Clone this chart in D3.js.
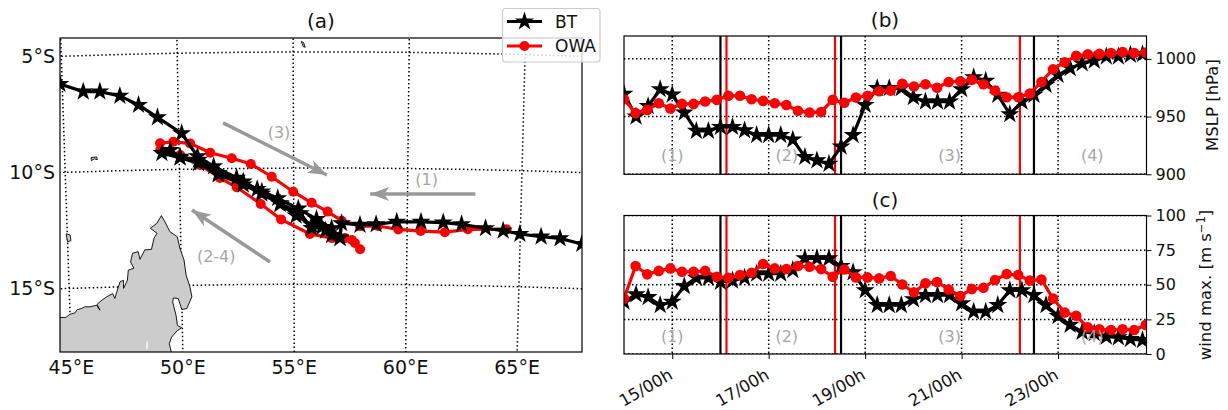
<!DOCTYPE html>
<html>
<head>
<meta charset="utf-8">
<script src="https://cdn.jsdelivr.net/npm/d3@7"></script>
<style>
  body { margin: 0; background: #fff; }
  text { font-family: "DejaVu Sans", sans-serif; fill: #111; }
</style>
</head>
<body>
<div id="chart"></div>
<script>
// track positions, [lon, lat]
const btTrack = [[69.2,-13.3],[67.73,-13.08],[66.76,-12.87],[65.92,-12.82],[64.98,-12.73],[64.24,-12.61],[63.46,-12.52],[62.4,-12.37],[61.59,-12.31],[60.61,-12.29],[59.54,-12.3],[58.63,-12.42],[57.92,-12.45],[57.11,-12.38],[57.04,-13.02],[56.67,-12.89],[56.23,-12.55],[55.79,-12.59],[55.28,-11.95],[54.4,-11.52],[53.6,-11.01],[52.79,-10.57],[51.7,-10.2],[50.84,-9.61],[50.04,-9.46],[49.62,-9.16],[49.25,-9.29],[50.04,-9.5],[50.84,-9.75],[51.7,-10.25],[52.79,-10.7],[53.6,-11.1],[54.4,-11.55],[55.1,-12.05],[55.79,-12.45],[56.4,-12.7],[57.04,-13.0],[56.67,-12.6],[56.0,-12.2],[55.2,-11.75],[54.3,-11.3],[53.4,-10.9],[52.5,-10.4],[51.5,-9.9],[50.8,-9.45],[50.13,-8.45],[49.09,-7.74],[48.28,-7.19],[47.48,-6.78],[46.62,-6.57],[45.9,-6.55],[44.9,-6.19],[44.0,-6.0]]
const owaTrack = [[64.39,-12.54],[62.68,-12.58],[61.67,-12.72],[60.6,-12.69],[59.61,-12.63],[58.71,-12.49],[57.92,-12.5],[57.11,-12.27],[56.49,-11.88],[55.79,-11.5],[54.98,-11.02],[54.04,-10.37],[53.13,-9.81],[52.3,-9.56],[51.36,-9.31],[50.49,-8.89],[49.76,-8.81],[49.18,-8.86],[49.18,-9.15],[50.05,-9.38],[50.9,-9.83],[51.77,-10.4],[52.5,-10.81],[53.55,-11.54],[54.44,-12.21],[55.71,-12.84],[56.69,-13.02],[57.26,-13.02],[57.57,-13.1],[57.7,-13.23],[57.93,-13.5]]

// land
const madagascar = [[44.0,-16.23],[44.54,-16.23],[44.81,-16.24],[44.99,-16.11],[45.22,-16.06],[45.33,-15.92],[45.52,-15.88],[45.67,-15.81],[45.9,-15.82],[46.2,-15.76],[46.34,-15.98],[46.22,-15.72],[46.44,-15.55],[46.66,-15.41],[46.93,-15.28],[47.02,-15.49],[47.14,-15.14],[47.27,-14.78],[47.42,-14.72],[47.42,-15.07],[47.6,-14.72],[47.65,-14.29],[47.9,-14.22],[47.76,-13.94],[47.86,-13.57],[48.11,-13.51],[48.18,-13.84],[48.4,-13.44],[48.7,-13.42],[48.82,-12.95],[48.96,-12.74],[48.67,-12.51],[48.96,-12.31],[49.17,-11.98],[49.32,-12.25],[49.53,-12.68],[49.85,-12.9],[49.96,-13.41],[50.13,-13.91],[50.21,-14.56],[50.37,-15.06],[50.45,-15.5],[50.21,-16.0],[49.99,-16.03],[49.84,-15.56],[49.63,-15.53],[49.59,-15.7],[49.73,-16.28],[49.78,-16.71],[49.97,-16.81],[49.75,-16.95],[49.51,-17.21],[49.4,-17.49],[49.5,-17.9],[49.5,-18.6],[44.0,-18.6]]
const islands = [
  [[44.95,-12.65],[45.12,-12.7],[45.15,-12.95],[45.0,-13.0]],
  [[46.15,-9.4],[46.4,-9.38],[46.42,-9.5],[46.3,-9.46],[46.16,-9.53]],
  [[55.35,-4.55],[55.45,-4.6],[55.52,-4.8],[55.44,-4.78]]
]
const lake = [[48.38,-17.36],[48.44,-17.38],[48.42,-17.7],[48.36,-17.68]]

// pressure and wind, BT every 6 h from 14/00h, OWA a bit denser
const btMslp = [969.7,950,959,973.7,969,953.5,937.6,937.6,941,941,938,934,934,934,930,915,912,909,924,934,960,974.6,974.6,974.6,966.8,963,963,963,973.7,984,981,968.8,952,963,968.8,977.5,986,992,996,998.5,1002,1002,1003.5,1004]
const owaMslp = [965,953,955.8,961.6,957,961,961,963,964.5,968,968,965,963.6,961.6,960,955,953.5,954,964.5,962,966.5,968,972,972.5,978.5,976,978,975,980,980.6,981.8,978,972.5,966.8,966.8,970,980,991,997,1002.6,1004,1004.3,1005,1006,1005,1005.5]
const btWind = [37.7,43,41,35.3,37.7,49,55,55,52,53,55,58,58,58,60.6,69,69,69,63.5,59,46,35.3,35.3,35.3,39.4,42.5,42.5,42.5,36.5,30.5,30.5,35.3,46,46,42.5,35.3,27.4,21,16,15,12.5,12,10.8,10]
const owaWind = [40,63.5,57.5,60,61.8,59.4,59.4,60,55.8,55,57,58.7,65,61.8,61.3,63.5,63,61.3,55.8,61,55.3,55.3,54.6,56.3,50.2,44.5,51,52,46.6,41.8,47,47.8,53.4,57.7,57,53,53.8,40,30,27.6,19.2,17.8,17.3,17.8,17.3,21]

// phase boundaries
const parseTime = d3.utcParse("%d %H")
const btPhases = ["16 00", "18 12", "22 12"].map(parseTime)
const owaPhases = ["16 03", "18 09", "22 05"].map(parseTime)
const phaseLabels = ["(1)", "(2)", "(3)", "(4)"]
const phaseTimes = ["15 00", "17 09", "20 18", "23 17"].map(parseTime)

const lonTicks = [45, 50, 55, 60, 65]
const latTicks = [-5, -10, -15]
const timeTicks = ["15 00", "17 00", "19 00", "21 00", "23 00"].map(parseTime)

// map arrows, [from, to]
const arrows = [
  [[62.98,-11.05],[58.36,-11.11]],
  [[51.94,-8.03],[56.46,-10.3]],
  [[53.94,-14.04],[50.52,-11.76]]
]
const arrowLabels = [
  { text: "(1)", pos: [60.83,-10.44] },
  { text: "(3)", pos: [54.37,-8.45] },
  { text: "(2-4)", pos: [51.56,-13.76] }
]

const RED = "#ff0000"
const GREY = "#a6a6a6"

const svg = d3.select("#chart").append("svg")
  .attr("width", 1228)
  .attr("height", 410)
  .style("display", "block")

svg.append("defs").append("marker")
  .attr("id", "head")
  .attr("markerUnits", "userSpaceOnUse")
  .attr("orient", "auto")
  .attr("viewBox", "-20 -8 21 16")
  .attr("refX", 0)
  .attr("refY", 0)
  .attr("markerWidth", 21)
  .attr("markerHeight", 16)
  .append("path")
  .attr("d", "M0,0L-19,-7L-14,0L-19,7Z")
  .attr("fill", "#999")

const starPath = r => d3.symbol().type(d3.symbolStar).size(r * r / 0.8908)()

function clipRect(id, m) {
  svg.select("defs").append("clipPath").attr("id", id)
    .append("rect")
    .attr("x", m.left).attr("y", m.top)
    .attr("width", m.right - m.left).attr("height", m.bottom - m.top)
}

function drawMap() {
  const m = { left: 60, right: 582, top: 38, bottom: 352 }
  clipRect("clip-map", m)

  const projection = d3.geoConicConformal()
    .parallels([-10, -10])
    .rotate([-56.2, 0])
    .center([0, -10])
    .scale(1329)
    .translate([321, 168])
  const path = d3.geoPath(projection)
  const line = d3.line().x(d => projection(d)[0]).y(d => projection(d)[1])

  const g = svg.append("g").attr("clip-path", "url(#clip-map)")

  const graticule = d3.geoGraticule().step([5, 5]).extent([[40, -25], [70.01, 0.01]])
  g.append("path")
    .datum(graticule())
    .attr("d", path)
    .attr("fill", "none")
    .attr("stroke", "#000")
    .attr("stroke-width", 1.5)
    .attr("stroke-dasharray", "1.5,2.5")

  g.selectAll(".land")
    .data([madagascar, ...islands])
    .join("path")
    .attr("class", "land")
    .attr("d", d => path({ type: "Polygon", coordinates: [[...d, d[0]]] }))
    .attr("fill", "#cccccc")
    .attr("stroke", "#000")
    .attr("stroke-width", 0.9)

  g.append("path")
    .attr("d", path({ type: "Polygon", coordinates: [[...lake, lake[0]]] }))
    .attr("fill", "#fff")

  g.selectAll(".arrow")
    .data(arrows)
    .join("path")
    .attr("class", "arrow")
    .attr("d", line)
    .attr("fill", "none")
    .attr("stroke", "#999")
    .attr("stroke-width", 3.5)
    .attr("marker-end", "url(#head)")

  g.selectAll(".arrow-label")
    .data(arrowLabels)
    .join("text")
    .attr("class", "arrow-label")
    .attr("x", d => projection(d.pos)[0])
    .attr("y", d => projection(d.pos)[1])
    .attr("dy", "0.35em")
    .attr("text-anchor", "middle")
    .attr("font-size", 16)
    .style("fill", GREY)
    .text(d => d.text)

  g.append("path")
    .attr("d", line(owaTrack))
    .attr("fill", "none")
    .attr("stroke", RED)
    .attr("stroke-width", 3.2)
  g.selectAll(".owa")
    .data(owaTrack)
    .join("circle")
    .attr("class", "owa")
    .attr("cx", d => projection(d)[0])
    .attr("cy", d => projection(d)[1])
    .attr("r", 5)
    .attr("fill", RED)

  g.append("path")
    .attr("d", line(btTrack))
    .attr("fill", "none")
    .attr("stroke", "#000")
    .attr("stroke-width", 3.2)
  g.selectAll(".bt")
    .data(btTrack)
    .join("path")
    .attr("class", "bt")
    .attr("transform", d => `translate(${projection(d)})`)
    .attr("d", starPath(10))
    .attr("fill", "#000")

  svg.append("rect")
    .attr("x", m.left).attr("y", m.top)
    .attr("width", m.right - m.left).attr("height", m.bottom - m.top)
    .attr("fill", "none")
    .attr("stroke", "#000")
    .attr("stroke-width", 1.2)

  svg.selectAll(".lon-label")
    .data(lonTicks)
    .join("text")
    .attr("class", "lon-label")
    .attr("x", d => projection([d, -17.9])[0])
    .attr("y", 374)
    .attr("text-anchor", "middle")
    .attr("font-size", 19)
    .text(d => `${d}°E`)

  svg.selectAll(".lat-label")
    .data(latTicks)
    .join("text")
    .attr("class", "lat-label")
    .attr("x", 55)
    .attr("y", d => projection([44.6, d])[1])
    .attr("dy", "0.35em")
    .attr("text-anchor", "end")
    .attr("font-size", 19)
    .text(d => `${-d}°S`)

  svg.append("text")
    .attr("x", 321).attr("y", 28)
    .attr("text-anchor", "middle")
    .attr("font-size", 20)
    .text("(a)")
}

const t0 = parseTime("14 00")
const t1 = parseTime("24 20")
const btTime = i => new Date(+t0 + i * 6 * 36e5)
const owaTime = i => new Date(+t0 + i * 5.77 * 36e5)

function drawPanel(cfg) {
  const m = { left: 624, right: 1146.5, top: cfg.top, bottom: cfg.bottom }
  clipRect(cfg.id, m)

  const xScale = d3.scaleUtc().domain([t0, t1]).range([m.left, m.right])
  const yScale = d3.scaleLinear().domain(cfg.domain).range([m.bottom, m.top])

  const g = svg.append("g").attr("clip-path", `url(#${cfg.id})`)

  g.selectAll(".vgrid")
    .data(timeTicks)
    .join("line")
    .attr("class", "vgrid")
    .attr("x1", d => xScale(d)).attr("x2", d => xScale(d))
    .attr("y1", m.top).attr("y2", m.bottom)
  g.selectAll(".hgrid")
    .data(cfg.ticks)
    .join("line")
    .attr("class", "hgrid")
    .attr("x1", m.left).attr("x2", m.right)
    .attr("y1", d => yScale(d)).attr("y2", d => yScale(d))
  g.selectAll("line")
    .attr("stroke", "#000")
    .attr("stroke-width", 1.5)
    .attr("stroke-dasharray", "1.5,2.5")

  g.selectAll(".phase-bt")
    .data(btPhases)
    .join("line")
    .attr("class", "phase-bt")
    .attr("x1", d => xScale(d)).attr("x2", d => xScale(d))
    .attr("y1", m.top).attr("y2", m.bottom)
    .attr("stroke", "#000")
    .attr("stroke-width", 2.2)
  g.selectAll(".phase-owa")
    .data(owaPhases)
    .join("line")
    .attr("class", "phase-owa")
    .attr("x1", d => xScale(d)).attr("x2", d => xScale(d))
    .attr("y1", m.top).attr("y2", m.bottom)
    .attr("stroke", RED)
    .attr("stroke-width", 2.2)

  g.append("path")
    .attr("d", d3.line().x((d, i) => xScale(btTime(i))).y(d => yScale(d))(cfg.bt))
    .attr("fill", "none")
    .attr("stroke", "#000")
    .attr("stroke-width", 3.2)
  g.selectAll(".bt")
    .data(cfg.bt)
    .join("path")
    .attr("class", "bt")
    .attr("transform", (d, i) => `translate(${xScale(btTime(i))},${yScale(d)})`)
    .attr("d", starPath(10))
    .attr("fill", "#000")

  g.append("path")
    .attr("d", d3.line().x((d, i) => xScale(owaTime(i))).y(d => yScale(d))(cfg.owa))
    .attr("fill", "none")
    .attr("stroke", RED)
    .attr("stroke-width", 3.2)
  g.selectAll(".owa")
    .data(cfg.owa)
    .join("circle")
    .attr("class", "owa")
    .attr("cx", (d, i) => xScale(owaTime(i)))
    .attr("cy", d => yScale(d))
    .attr("r", 5.3)
    .attr("fill", RED)

  g.selectAll(".phase-label")
    .data(phaseLabels)
    .join("text")
    .attr("class", "phase-label")
    .attr("x", (d, i) => xScale(phaseTimes[i]))
    .attr("y", yScale(cfg.labelValue))
    .attr("dy", "0.35em")
    .attr("text-anchor", "middle")
    .attr("font-size", 16)
    .style("fill", GREY)
    .text(d => d)

  svg.append("rect")
    .attr("x", m.left).attr("y", m.top)
    .attr("width", m.right - m.left).attr("height", m.bottom - m.top)
    .attr("fill", "none")
    .attr("stroke", "#000")
    .attr("stroke-width", 1.2)

  const yAxis = d3.axisRight(yScale)
    .tickValues(cfg.ticks)
    .tickSize(5)
    .tickPadding(4)
    .tickFormat(d3.format("d"))
  const yG = svg.append("g").attr("transform", `translate(${m.right},0)`).call(yAxis)
  yG.select(".domain").remove()
  yG.selectAll("text").attr("font-size", 16).attr("font-family", null)

  const yLabel = svg.append("text")
    .attr("transform", `translate(${cfg.labelX},${cfg.labelY}) rotate(-90)`)
    .attr("text-anchor", "middle")
    .attr("font-size", 16.5)
  cfg.label.forEach(part => {
    yLabel.append("tspan")
      .attr("dy", part.dy)
      .attr("font-size", part.size)
      .text(part.text)
  })

  svg.append("text")
    .attr("x", 885).attr("y", cfg.top - 9)
    .attr("text-anchor", "middle")
    .attr("font-size", 20)
    .text(cfg.title)

  if (cfg.showTime) {
    const xAxis = d3.axisBottom(xScale)
      .tickValues(timeTicks)
      .tickSize(5)
      .tickFormat(d3.utcFormat("%d/%Hh"))
    const xG = svg.append("g").attr("transform", `translate(0,${m.bottom})`).call(xAxis)
    xG.select(".domain").remove()
    xG.selectAll("text")
      .attr("font-size", 16.5)
      .attr("font-family", null)
      .attr("text-anchor", "end")
      .attr("dy", 0)
      .attr("y", 0)
      .attr("transform", "translate(1,24) rotate(-30)")
  }
}

function drawLegend() {
  const box = svg.append("g")
  box.append("rect")
    .attr("x", 502.5).attr("y", 8.5)
    .attr("width", 97.5).attr("height", 53.5)
    .attr("rx", 3)
    .attr("fill", "#fff")
    .attr("fill-opacity", 0.8)
    .attr("stroke", "#ccc")
    .attr("stroke-width", 1.2)

  const rows = [{ name: "BT", y: 21.5, color: "#000" }, { name: "OWA", y: 46, color: RED }]
  rows.forEach(r => {
    box.append("line")
      .attr("x1", 507).attr("x2", 542)
      .attr("y1", r.y).attr("y2", r.y)
      .attr("stroke", r.color)
      .attr("stroke-width", 3.2)
    if (r.name === "BT") {
      box.append("path")
        .attr("transform", `translate(524.5,${r.y})`)
        .attr("d", starPath(10))
        .attr("fill", r.color)
    } else {
      box.append("circle")
        .attr("cx", 524.5).attr("cy", r.y).attr("r", 5)
        .attr("fill", r.color)
    }
    box.append("text")
      .attr("x", 555).attr("y", r.y)
      .attr("dy", "0.36em")
      .attr("font-size", 17)
      .text(r.name)
  })
}

drawMap()
drawPanel({
  id: "clip-b", top: 36, bottom: 174.3, domain: [900, 1019.8], ticks: [900, 950, 1000],
  bt: btMslp, owa: owaMslp, labelValue: 916, title: "(b)",
  label: [{ text: "MSLP [hPa]", dy: "0.35em" }], labelX: 1212, labelY: 105, showTime: false
})
drawPanel({
  id: "clip-c", top: 215.5, bottom: 354, domain: [0, 100], ticks: [0, 25, 50, 75, 100],
  bt: btWind, owa: owaWind, labelValue: 13, title: "(c)",
  label: [
    { text: "wind max. [m s", dy: "0.35em" },
    { text: "−1", dy: -6, size: 11.5 },
    { text: "]", dy: 6 }
  ],
  labelX: 1205, labelY: 285, showTime: true
})
drawLegend()
</script>
</body>
</html>
